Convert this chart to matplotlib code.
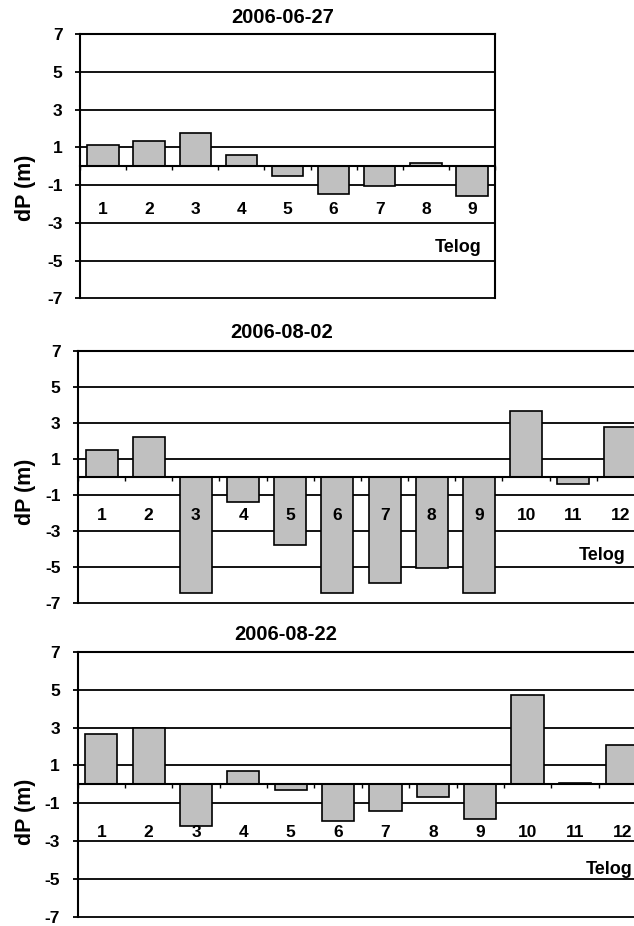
import numpy as np
import matplotlib
matplotlib.use("Agg")
import matplotlib.pyplot as plt
from matplotlib.transforms import blended_transform_factory

plt.rcParams['font.family'] = ['Liberation Sans', 'DejaVu Sans']
plt.rcParams['font.weight'] = 'bold'

# ---- data ----
titles = ["2006-06-27", "2006-08-02", "2006-08-22"]
cats_1 = ["1", "2", "3", "4", "5", "6", "7", "8", "9"]
cats_2 = ["1", "2", "3", "4", "5", "6", "7", "8", "9", "10", "11", "12"]
cats_3 = ["1", "2", "3", "4", "5", "6", "7", "8", "9", "10", "11", "12"]
vals_1 = [1.14, 1.32, 1.77, 0.60, -0.49, -1.49, -1.05, 0.16, -1.58]
vals_2 = [1.50, 2.23, -6.45, -1.40, -3.77, -6.45, -5.89, -5.03, -6.45, 3.68, -0.41, 2.79]
vals_3 = [2.65, 3.00, -2.21, 0.70, -0.30, -1.94, -1.41, -0.65, -1.85, 4.72, 0.08, 2.08]
y_ticks = [7, 5, 3, 1, -1, -3, -5, -7]
y_label = "dP (m)"
note = "Telog"

# ---- layout (pixels) ----
W, H = 634, 926
layout = [
    dict(left=80, right=495, top=34.3, bottom=298.3, cat_y=209,
         title=(282.5, 17.5), ylab=(25, 188), note=(481.7, 252)),
    dict(left=78, right=644, top=350.7, bottom=603.3, cat_y=515,
         title=(282, 332), ylab=(25, 492), note=(625.3, 559.5)),
    dict(left=77.6, right=646, top=652, bottom=916.7, cat_y=832.3,
         title=(286, 634), ylab=(25, 812), note=(632, 874.5)),
]

fig = plt.figure(figsize=(W / 100, H / 100), dpi=100)

def fx(px):
    return px / W

def fy(py):
    return 1 - py / H

panels = [(cats_1, vals_1), (cats_2, vals_2), (cats_3, vals_3)]

for (cats, vals), title, L in zip(panels, titles, layout):
    ax = fig.add_axes([fx(L['left']), fy(L['bottom']),
                       (L['right'] - L['left']) / W,
                       (L['bottom'] - L['top']) / H])
    n = len(cats)
    x = np.arange(n)
    ax.bar(x, vals, width=0.68, color='#C0C0C0', edgecolor='black',
           linewidth=1.2, zorder=2)
    ax.set_xlim(-0.5, n - 0.5)
    ax.set_ylim(-7, 7)
    ax.set_yticks(y_ticks)
    ax.set_yticklabels([str(v) for v in y_ticks], fontsize=12.5, fontweight='bold')
    ax.yaxis.grid(True, color='black', linewidth=1.3)
    for gl in ax.get_ygridlines():
        gl.set_clip_on(False)
    ax.set_axisbelow(True)
    ax.tick_params(axis='y', direction='out', length=3.6, width=1.3, pad=9)

    ax.spines['bottom'].set_position(('data', 0))
    for s in ax.spines.values():
        s.set_linewidth(1.5)
        s.set_color('black')
    ax.set_xticks(np.arange(n + 1) - 0.5)
    ax.set_xticklabels([])
    ax.tick_params(axis='x', direction='out', length=3, width=1.0)

    tr = blended_transform_factory(ax.transData, fig.transFigure)
    for i, c in enumerate(cats):
        ax.text(i, fy(L['cat_y']), c, transform=tr, ha='center', va='center',
                fontsize=12.5, fontweight='bold')

    fig.text(fx(L['title'][0]), fy(L['title'][1]), title, ha='center',
             va='center', fontsize=14.5, fontweight='bold')
    fig.text(fx(L['ylab'][0]), fy(L['ylab'][1]), y_label, ha='center',
             va='center', rotation=90, fontsize=15.5, fontweight='bold')
    fig.text(fx(L['note'][0]), fy(L['note'][1]), note, ha='right',
             va='baseline', fontsize=13, fontweight='bold')

fig.savefig("out.png", dpi=100)
